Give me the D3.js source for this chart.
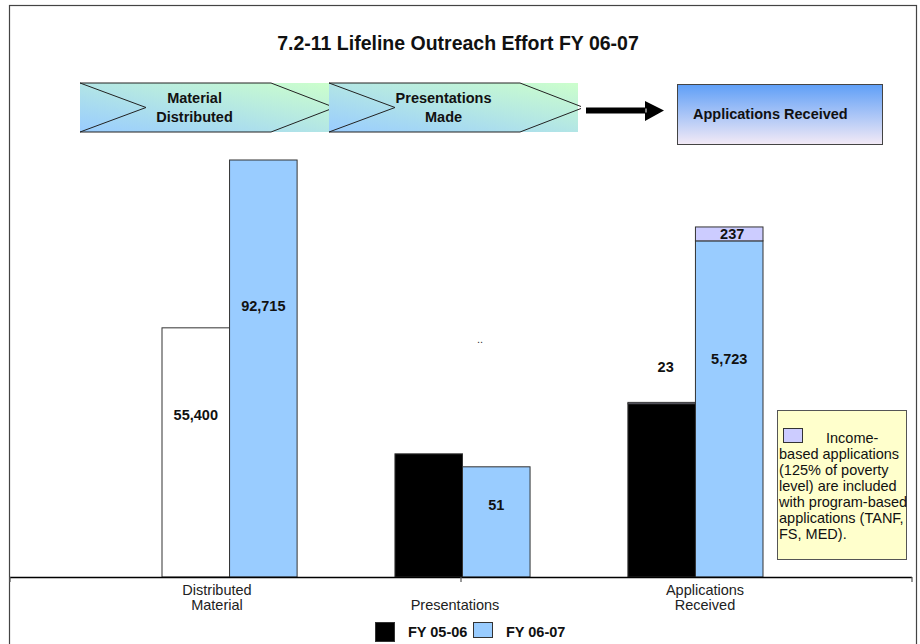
<!DOCTYPE html>
<html>
<head>
<meta charset="utf-8">
<script src="https://cdn.jsdelivr.net/npm/d3@7"></script>
<style>
  html, body { margin: 0; padding: 0; background: #fff; }
  svg { display: block; font-family: "Liberation Sans", Arial, sans-serif; }
</style>
</head>
<body>
<svg id="chart" width="920" height="644"></svg>
<script>
// ---------------- DATA ----------------
const title = "7.2-11 Lifeline Outreach Effort FY 06-07";
const categories = ["Distributed Material", "Presentations", "Applications Received"];
const categoryLabels = [["Distributed", "Material"], ["Presentations"], ["Applications", "Received"]];
const series = ["FY 05-06", "FY 06-07"];
// program-based values (bars); unlabeled ones
const fy0506 = [55400, 57, 2950];
const fy0607 = [92715, 51, 5723];
// income-based applications stacked on top
const income0506 = [0, 0, 23];
const income0607 = [0, 0, 237];
// which values carry a printed label
const labeled0506 = [true, false, false];
const labeled0607 = [true, true, true];
// each category has its own (hidden) value axis maximum
const axisMax = [92715, 193, 7100];
const flowSteps = [["Material", "Distributed"], ["Presentations", "Made"]];
const resultStep = "Applications Received";
const noteLines = ["Income-", "based applications", "(125% of poverty", "level) are included", "with program-based", "applications (TANF,", "FS, MED)."];

// ---------------- STYLE ----------------
const W = 920, H = 644;
const baseY = 577, topY = 160;
const blue = "#99ccff", lavender = "#ccccff";
const fmt = d3.format(",");
const FS = 14.5;

const svg = d3.select("#chart");
const defs = svg.append("defs");

const g1 = defs.append("linearGradient").attr("id", "chev").attr("x1", 0).attr("y1", 1).attr("x2", 1).attr("y2", 0);
g1.append("stop").attr("offset", "0%").attr("stop-color", "#99ccff");
g1.append("stop").attr("offset", "100%").attr("stop-color", "#ccffcc");
const g2 = defs.append("linearGradient").attr("id", "boxg").attr("x1", 0).attr("y1", 0).attr("x2", 0).attr("y2", 1);
g2.append("stop").attr("offset", "0%").attr("stop-color", "#5f9ff7");
g2.append("stop").attr("offset", "100%").attr("stop-color", "#f3eaf6");

// outer frame
svg.append("rect").attr("x", 9.5).attr("y", 5.5).attr("width", 907).attr("height", 660)
  .attr("fill", "none").attr("stroke", "#444").attr("stroke-width", 1.2);

// title
svg.append("text").attr("x", 458).attr("y", 50).attr("text-anchor", "middle")
  .attr("font-weight", "bold").attr("font-size", 19.5).attr("fill", "#111").text(title);

// ---------------- FLOW HEADER ----------------
const flowX = d3.scaleBand().domain(flowSteps.map((d, i) => i)).range([80, 578]).padding(0);
const fy0 = 83, fy1 = 132, fmid = (fy0 + fy1) / 2;
flowSteps.forEach((lines, i) => {
  const x0 = flowX(i), w = flowX.bandwidth(), x1 = x0 + w;
  const g = svg.append("g");
  g.append("rect").attr("x", x0).attr("y", fy0).attr("width", w).attr("height", fy1 - fy0).attr("fill", "url(#chev)");
  const shoulder = x1 - 58, notch = x0 + 66;
  const path = d3.path();
  path.moveTo(x0, fy0); path.lineTo(shoulder, fy0); path.lineTo(x1 + 3, fmid - 1);
  path.moveTo(x0, fy1); path.lineTo(shoulder, fy1); path.lineTo(x1 + 3, fmid + 1);
  path.moveTo(x0, fy0); path.lineTo(notch, fmid); path.lineTo(x0, fy1);
  g.append("path").attr("d", path.toString()).attr("fill", "none").attr("stroke", "#222").attr("stroke-width", 1);
  const cx = x0 + w * 0.46;
  lines.forEach((t, k) => {
    g.append("text").attr("x", cx).attr("y", 103 + k * 19).attr("text-anchor", "middle")
      .attr("font-weight", "bold").attr("font-size", FS).attr("fill", "#111").text(t);
  });
});
// arrow
svg.append("path")
  .attr("d", "M586,107.5 L645,107.5 L645,101 L664,110.5 L645,121 L645,113.5 L586,113.5 Z")
  .attr("fill", "#000");
svg.append("line").attr("x1", 646).attr("x2", 646).attr("y1", 108.5).attr("y2", 112.5).attr("stroke", "#fff").attr("stroke-width", 1);
// result box
svg.append("rect").attr("x", 677.5).attr("y", 84.5).attr("width", 205).attr("height", 60)
  .attr("fill", "url(#boxg)").attr("stroke", "#444").attr("stroke-width", 1);
svg.append("text").attr("x", 693).attr("y", 119).attr("font-weight", "bold").attr("font-size", FS)
  .attr("fill", "#111").text(resultStep);

// ---------------- BARS ----------------
const x = d3.scaleBand().domain(categories).range([162, 763]).paddingInner(0.42).paddingOuter(0);
const xs = d3.scaleBand().domain(series).range([0, x.bandwidth()]);
const yScales = axisMax.map(m => d3.scaleLinear().domain([0, m]).range([baseY, topY]));
const xLabel = d3.scalePoint().domain(categories).range([217, 705]);

const rows = categories.map((c, i) => ({
  cat: c, i,
  bars: [
    { s: series[0], prog: fy0506[i], inc: income0506[i], labeled: labeled0506[i],
      fill: i === 0 ? "#ffffff" : "#000000" },
    { s: series[1], prog: fy0607[i], inc: income0607[i], labeled: labeled0607[i], fill: blue }
  ]
}));

const groups = svg.append("g").selectAll("g").data(rows).join("g")
  .attr("transform", d => `translate(${x(d.cat)},0)`);

groups.each(function (row) {
  const g = d3.select(this);
  const y = yScales[row.i];
  row.bars.forEach(b => {
    const bx = xs(b.s), bw = xs.bandwidth();
    const progTop = y(b.prog);
    g.append("rect").attr("x", bx).attr("y", progTop).attr("width", bw).attr("height", baseY - progTop)
      .attr("fill", b.fill).attr("stroke", "#333").attr("stroke-width", 1);
    let top = progTop;
    if (b.inc > 0) {
      const incTop = y(b.prog + b.inc);
      g.append("rect").attr("x", bx).attr("y", incTop).attr("width", bw).attr("height", progTop - incTop)
        .attr("fill", lavender).attr("stroke", "#333").attr("stroke-width", 1);
      top = incTop;
      const isBlue = b.fill === blue;
      g.append("text").attr("x", bx + bw / 2 + (isBlue ? 3 : 4))
        .attr("y", isBlue ? (incTop + progTop) / 2 + 5 : top - 30)
        .attr("text-anchor", "middle").attr("font-weight", "bold").attr("font-size", FS)
        .attr("fill", "#111").text(fmt(b.inc));
    }
    if (b.labeled) {
      g.append("text").attr("x", bx + bw / 2).attr("y", progTop + (baseY - progTop) * 0.35 + 5)
        .attr("text-anchor", "middle").attr("font-weight", "bold").attr("font-size", FS)
        .attr("fill", "#111").text(fmt(b.prog));
    }
  });
});

// stray marks in the original
svg.append("text").attr("x", 480).attr("y", 343).attr("text-anchor", "middle").attr("font-size", 11)
  .attr("fill", "#333").text("..");

// ---------------- AXIS ----------------
svg.append("line").attr("x1", 10).attr("x2", 912).attr("y1", baseY + 0.5).attr("y2", baseY + 0.5)
  .attr("stroke", "#000").attr("stroke-width", 1.5);
[10, xLabel(categories[1]), 912].forEach(tx => {
  svg.append("line").attr("x1", tx).attr("x2", tx).attr("y1", baseY).attr("y2", baseY + 5)
    .attr("stroke", "#555").attr("stroke-width", 1.2);
});
categoryLabels.forEach((lines, i) => {
  const cx = xLabel(categories[i]) - (i === 1 ? 6 : 0);
  const t = svg.append("text").attr("text-anchor", "middle").attr("font-size", FS).attr("fill", "#222");
  const startY = lines.length === 1 ? 610 : 595;
  lines.forEach((l, k) => t.append("tspan").attr("x", cx).attr("y", startY + k * 15).text(l));
});

// ---------------- LEGEND ----------------
const legendX = d3.scalePoint().domain(series).range([375, 473]);
const legendFill = [ "#000000", blue ];
series.forEach((s, k) => {
  const lx = legendX(s);
  svg.append("rect").attr("x", lx + 0.5).attr("y", 622.5).attr("width", 19).attr("height", k === 0 ? 19 : 15)
    .attr("fill", legendFill[k]).attr("stroke", "#333").attr("stroke-width", 1);
  svg.append("text").attr("x", lx + 33).attr("y", 637).attr("font-weight", "bold").attr("font-size", FS)
    .attr("fill", "#111").text(s);
});

// ---------------- NOTE BOX ----------------
svg.append("rect").attr("x", 777.5).attr("y", 410.5).attr("width", 129).attr("height", 149)
  .attr("fill", "#ffffcc").attr("stroke", "#555").attr("stroke-width", 1);
svg.append("rect").attr("x", 783.5).attr("y", 428.5).attr("width", 19).attr("height", 14)
  .attr("fill", lavender).attr("stroke", "#333").attr("stroke-width", 1);
noteLines.forEach((l, k) => {
  svg.append("text").attr("x", k === 0 ? 826 : 779).attr("y", 443 + k * 16)
    .attr("font-size", FS).attr("fill", "#111").text(l);
});
</script>
</body>
</html>
